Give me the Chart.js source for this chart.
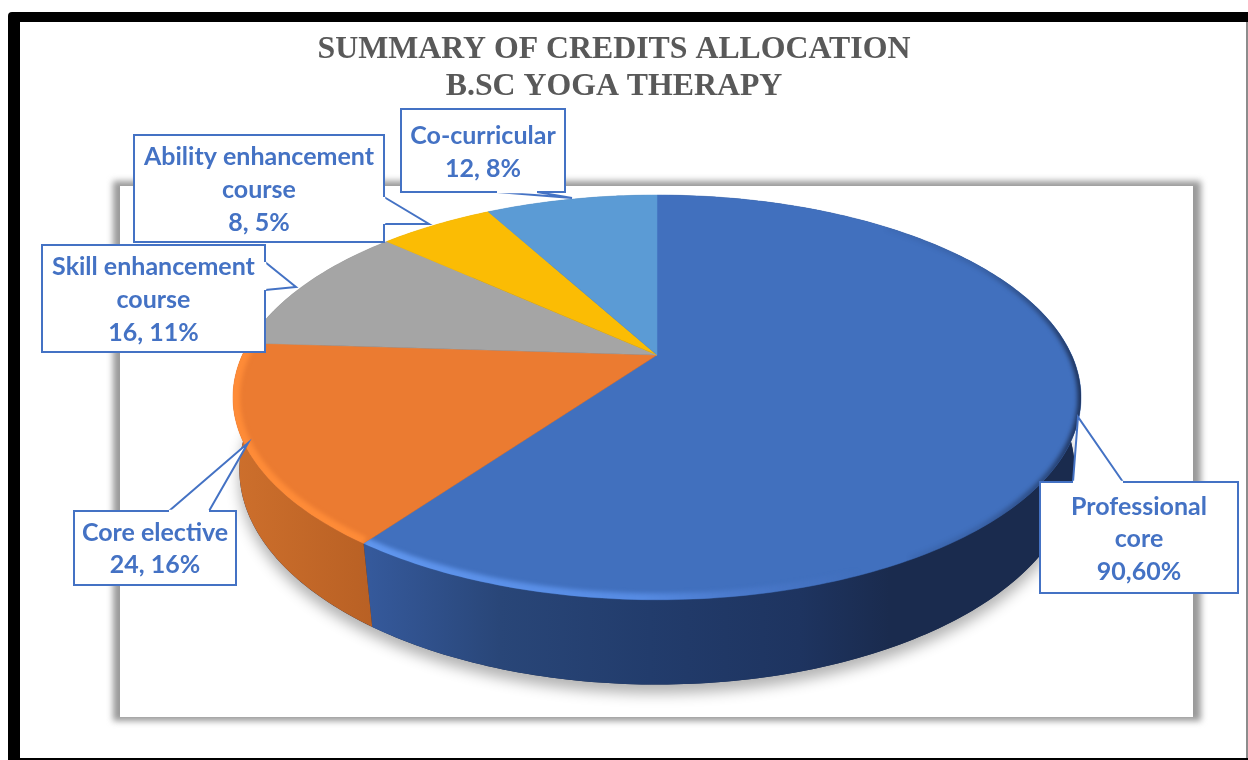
<!DOCTYPE html>
<html>
<head>
<meta charset="utf-8">
<title>Summary of credits allocation</title>
<script src="https://cdn.jsdelivr.net/npm/chart.js@4/dist/chart.umd.min.js"></script>
<style>
  html, body { margin: 0; padding: 0; background: #fff; }
  canvas { display: block; }
</style>
</head>
<body>
<canvas id="credits" width="1248" height="760"></canvas>
<script>
var titleLines = ["SUMMARY OF CREDITS ALLOCATION", "B.SC YOGA THERAPY"];
var categories = [["Professional", "core"], ["Core elective"], ["Skill enhancement", "course"], ["Ability enhancement", "course"], ["Co-curricular"]];
var credits = [90, 24, 16, 8, 12];
var valueLabels = ["90,60%", "24, 16%", "16, 11%", "8, 5%", "12, 8%"];
var sliceColors = ["#4170be", "#eb7b31", "#a5a5a5", "#fbbc04", "#5b9bd5"];

// the disc is a circle seen in perspective: top face and base have their own projection
var CX = 657;
var topFace = { y0: 355, a: 414.6, b: 193.5, k: 0.2095 };
var baseFace = { y0: 429, a: 410, b: 207, k: 0.19 };

// horizontal shading of the side wall, per slice
var sideShades = [
  [[370, "#35599b"], [500, "#294678"], [650, "#223c6c"], [800, "#1e3460"], [890, "#1a2b4e"], [1080, "#1a2b4e"]],
  [[235, "#cd6f2c"], [375, "#b86024"]],
  [[240, "#7c7c7c"], [400, "#7c7c7c"]],
  [[240, "#bf9000"], [400, "#bf9000"]],
  [[240, "#41719c"], [400, "#41719c"]]
];

// callout boxes: x, y, w, h, then the tail as base start, tip, base end
var callouts = [
  { x: 1040, y: 482, w: 198, h: 111, tail: [[1073, 482], [1078, 417], [1123, 482]], text: [507, 539, 572] },
  { x: 74, y: 511, w: 162, h: 74, tail: [[169, 511], [248, 443], [209, 511]], text: [533, 565] },
  { x: 42, y: 245, w: 223, h: 107, tail: [[265, 262], [296, 287], [265, 290]], text: [267, 300, 333] },
  { x: 134, y: 135, w: 250, h: 107, tail: [[384, 197], [429, 224], [384, 224]], text: [157, 190, 223] },
  { x: 401, y: 109, w: 164, h: 83, tail: [[497, 192], [572, 198], [537, 192]], text: [136, 169] }
];

function project(face, angle) {
  var c = Math.cos(angle), s = Math.sin(angle), w = 1 - face.k * s;
  return [CX + face.a * c / w, face.y0 + face.b * s / w];
}

function tracePerimeter(ctx, face, from, to, first) {
  var steps = Math.max(12, Math.ceil(Math.abs(to - from) * 60));
  for (var i = 0; i <= steps; i++) {
    var p = project(face, from + (to - from) * i / steps);
    if (i === 0 && first) ctx.moveTo(p[0], p[1]);
    else ctx.lineTo(p[0], p[1]);
  }
}

function horizontalGradient(ctx, stops) {
  var x0 = stops[0][0], x1 = stops[stops.length - 1][0];
  var g = ctx.createLinearGradient(x0, 0, x1, 0);
  stops.forEach(function (s) { g.addColorStop((s[0] - x0) / (x1 - x0), s[1]); });
  return g;
}

function traceWedge(ctx, arc) {
  ctx.beginPath();
  ctx.moveTo(CX, topFace.y0);
  tracePerimeter(ctx, topFace, arc.startAngle, arc.endAngle, false);
  ctx.closePath();
}

function drawRim(ctx, arc, from, to, width, stops) {
  ctx.save();
  traceWedge(ctx, arc);
  ctx.clip();
  ctx.filter = "blur(2px)";
  ctx.beginPath();
  tracePerimeter(ctx, topFace, from, to, true);
  ctx.lineWidth = width;
  ctx.strokeStyle = horizontalGradient(ctx, stops);
  ctx.stroke();
  ctx.restore();
}

var framePlugin = {
  id: "frame",
  beforeDraw: function (chart) {
    var ctx = chart.ctx;
    ctx.save();
    ctx.fillStyle = "#fff";
    ctx.fillRect(0, 0, 1248, 760);
    ctx.fillStyle = "#000";
    ctx.beginPath();
    ctx.roundRect(8, 12, 1300, 800, 4);
    ctx.fill();
    ctx.fillStyle = "#8c8c8c";
    ctx.fillRect(1246, 22, 2, 736);
    ctx.fillStyle = "#fff";
    ctx.fillRect(20, 22, 1226, 736);

    // plot area with its soft grey shadow
    ctx.filter = "blur(3px)";
    ctx.fillStyle = "#9a9a9a";
    ctx.fillRect(113, 181, 1088, 540);
    ctx.filter = "none";
    ctx.fillStyle = "#fff";
    ctx.fillRect(120, 186, 1073, 531);
    ctx.restore();
  }
};

var discPlugin = {
  id: "disc",
  beforeDatasetDraw: function (chart) {
    var ctx = chart.ctx;
    var arcs = chart.getDatasetMeta(0).data;
    ctx.save();

    // shadow under the base
    ctx.save();
    ctx.shadowColor = "rgba(0,0,0,0.3)";
    ctx.shadowBlur = 14;
    ctx.shadowOffsetY = 9;
    ctx.fillStyle = "#1a2b4e";
    ctx.beginPath();
    tracePerimeter(ctx, baseFace, 0, Math.PI * 2, true);
    ctx.closePath();
    ctx.fill();
    ctx.restore();

    // side wall
    arcs.forEach(function (arc, i) {
      ctx.beginPath();
      tracePerimeter(ctx, topFace, arc.startAngle, arc.endAngle, true);
      tracePerimeter(ctx, baseFace, arc.endAngle, arc.startAngle, false);
      ctx.closePath();
      ctx.fillStyle = horizontalGradient(ctx, sideShades[i]);
      ctx.fill();
    });

    // top face
    arcs.forEach(function (arc) {
      traceWedge(ctx, arc);
      ctx.fillStyle = arc.options.backgroundColor;
      ctx.fill();
      ctx.strokeStyle = arc.options.backgroundColor;
      ctx.lineWidth = 0.5;
      ctx.stroke();
    });

    // lit bevel along the front edge, dark edge turning away on the right
    var deg = Math.PI / 180;
    drawRim(ctx, arcs[0], 30 * deg, arcs[0].endAngle, 13, [[365, "rgba(98,152,240,0.95)"], [640, "rgba(92,146,236,0.8)"], [790, "rgba(80,125,210,0.3)"], [860, "rgba(80,125,210,0)"], [1085, "rgba(80,125,210,0)"]]);
    drawRim(ctx, arcs[0], -50 * deg, 60 * deg, 7, [[850, "rgba(26,43,78,0)"], [980, "rgba(26,43,78,0.2)"], [1050, "rgba(26,43,78,0.6)"], [1085, "rgba(26,43,78,0.95)"]]);
    drawRim(ctx, arcs[1], arcs[1].startAngle, arcs[1].endAngle, 14, [[230, "rgba(255,140,56,0.95)"], [375, "rgba(255,140,56,0.95)"]]);

    ctx.restore();
    return false;
  }
};

var calloutPlugin = {
  id: "callouts",
  afterDatasetsDraw: function (chart) {
    var ctx = chart.ctx;
    var labels = chart.data.labels;
    ctx.save();
    ctx.lineWidth = 2;
    ctx.lineJoin = "miter";
    ctx.strokeStyle = "#4472c4";
    ctx.font = "bold 25px Lato";
    ctx.textAlign = "center";
    ctx.textBaseline = "middle";
    callouts.forEach(function (c, i) {
      ctx.fillStyle = "#fff";
      ctx.beginPath();
      ctx.rect(c.x, c.y, c.w, c.h);
      ctx.fill();
      ctx.stroke();

      // tail covers the box border between its two base points
      ctx.beginPath();
      ctx.moveTo(c.tail[0][0], c.tail[0][1]);
      ctx.lineTo(c.tail[1][0], c.tail[1][1]);
      ctx.lineTo(c.tail[2][0], c.tail[2][1]);
      ctx.fill();
      ctx.stroke();
      ctx.beginPath();
      ctx.moveTo(c.tail[0][0], c.tail[0][1]);
      ctx.lineTo(c.tail[2][0], c.tail[2][1]);
      ctx.strokeStyle = "#fff";
      ctx.lineWidth = 2.5;
      ctx.stroke();
      ctx.strokeStyle = "#4472c4";
      ctx.lineWidth = 2;

      ctx.fillStyle = "#4472c4";
      var lines = labels[i].concat([valueLabels[i]]);
      lines.forEach(function (line, j) {
        ctx.fillText(line, c.x + c.w / 2, c.text[j]);
      });
    });
    ctx.restore();
  }
};

new Chart(document.getElementById("credits"), {
  type: "pie",
  data: {
    labels: categories,
    datasets: [{ data: credits, backgroundColor: sliceColors, borderWidth: 0 }]
  },
  options: {
    responsive: false,
    animation: false,
    events: [],
    layout: { padding: { right: 20 } },
    plugins: {
      legend: { display: false },
      tooltip: { enabled: false },
      title: {
        display: true,
        text: titleLines,
        color: "#595959",
        font: { family: "'Liberation Serif'", size: 31.8, weight: "bold", lineHeight: 1.165 },
        padding: { top: 31, bottom: 0 }
      }
    }
  },
  plugins: [framePlugin, discPlugin, calloutPlugin]
});
</script>
</body>
</html>
